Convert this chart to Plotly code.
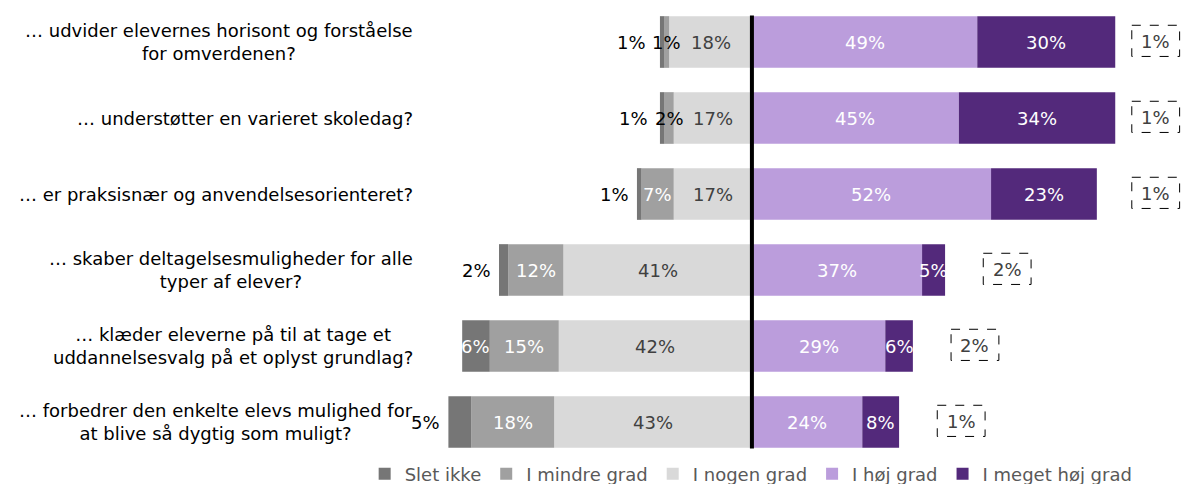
import plotly.graph_objects as go

questions = [
    "… udvider elevernes horisont og forståelse<br>for omverdenen?",
    "… understøtter en varieret skoledag?",
    "… er praksisnær og anvendelsesorienteret?",
    "… skaber deltagelsesmuligheder for alle<br>typer af elever?",
    "… klæder eleverne på til at tage et<br>uddannelsesvalg på et oplyst grundlag?",
    "… forbedrer den enkelte elevs mulighed for<br>at blive så dygtig som muligt?",
]
slet_ikke = [1, 1, 1, 2, 6, 5]
i_mindre_grad = [1, 2, 7, 12, 15, 18]
i_nogen_grad = [18, 17, 17, 41, 42, 43]
i_hoej_grad = [49, 45, 52, 37, 29, 24]
i_meget_hoej_grad = [30, 34, 23, 5, 6, 8]
ved_ikke = [1, 1, 1, 2, 2, 1]

names = ["Slet ikke", "I mindre grad", "I nogen grad", "I høj grad", "I meget høj grad"]
colors = ["#767676", "#a0a0a0", "#d9d9d9", "#bb9ddc", "#53297b"]

FONT = "DejaVu Sans"
FS = 18
X_RANGE = [-70, 93.3]
PLOT_W = 1181 - 430
PX = PLOT_W / (X_RANGE[1] - X_RANGE[0])  # pixels per percent unit
ypos = list(range(len(questions)))

fig = go.Figure()

def add_bar(vals, idx, sign):
    fig.add_trace(go.Bar(
        y=ypos, x=[sign * v for v in vals], orientation="h",
        name=names[idx], marker=dict(color=colors[idx], line=dict(width=0)),
        width=0.68, legendrank=idx + 1, hoverinfo="skip",
    ))

add_bar(i_nogen_grad, 2, -1)
add_bar(i_mindre_grad, 1, -1)
add_bar(slet_ikke, 0, -1)
add_bar(i_hoej_grad, 3, 1)
add_bar(i_meget_hoej_grad, 4, 1)

ann = []
shapes = []

def lab(x, y, text, color, **kw):
    d = dict(x=x, y=y, xref="x", yref="y", text=text, showarrow=False,
             font=dict(family=FONT, size=FS, color=color))
    d.update(kw)
    ann.append(d)

def half_w(text):
    return (11.0 * (len(text) - 1) + 17.0) / 2

for i in ypos:
    n, m, s = i_nogen_grad[i], i_mindre_grad[i], slet_ikke[i]
    h, mh = i_hoej_grad[i], i_meget_hoej_grad[i]
    lab(-n / 2, i, f"{n}%", "#404040")
    m_center = -(n + m / 2)
    lab(m_center, i, f"{m}%", "#000000" if m < 5 else "#ffffff")
    if s <= 5:
        left_end = -(n + m + s)
        xr = min(left_end - 6 / PX, m_center - (half_w(f"{m}%") + 5) / PX)
        lab(xr, i, f"{s}%", "#000000", xanchor="right")
    else:
        lab(-(n + m + s / 2), i, f"{s}%", "#ffffff")
    lab(h / 2, i, f"{h}%", "#ffffff")
    lab(h + mh / 2, i, f"{mh}%", "#ffffff")
    # "Ved ikke" dashed box
    cx = min(h + mh + 13.5, 87.8)
    shapes.append(dict(type="rect", xref="x", yref="y", x0=cx - 5.2, x1=cx + 5.2,
                       y0=i - 0.22, y1=i + 0.19,
                       line=dict(color="#000000", width=1, dash="dash")))
    lab(cx, i - 0.01, f"{ved_ikke[i]}%", "#404040")
    # question label
    ann.append(dict(x=-0.02, y=i, xref="paper", yref="y", text=questions[i],
                    xanchor="right", align="center", showarrow=False,
                    font=dict(family=FONT, size=FS, color="#000000")))

shapes.append(dict(type="line", xref="x", yref="y", x0=0, x1=0,
                   y0=-0.35, y1=len(questions) - 1 + 0.35,
                   line=dict(color="#000000", width=4)))

fig.update_layout(
    width=1181, height=484,
    margin=dict(l=430, r=0, t=4, b=24, autoexpand=False),
    barmode="relative",
    bargap=0.32,
    plot_bgcolor="#ffffff", paper_bgcolor="#ffffff",
    font=dict(family=FONT, size=FS, color="#595959"),
    xaxis=dict(range=X_RANGE, visible=False, fixedrange=True),
    yaxis=dict(range=[len(questions) - 0.5, -0.5], visible=False, fixedrange=True),
    annotations=ann,
    shapes=shapes,
    showlegend=True,
    legend=dict(orientation="h", xref="paper", yref="paper",
                x=-0.087, xanchor="left", y=-0.031, yanchor="middle",
                font=dict(family=FONT, size=FS, color="#595959"),
                traceorder="normal", itemclick=False, itemdoubleclick=False),
)

fig.write_html("out.html", config={"displayModeBar": False},
               post_script="document.body.style.margin='0';document.body.style.overflow='hidden';")
